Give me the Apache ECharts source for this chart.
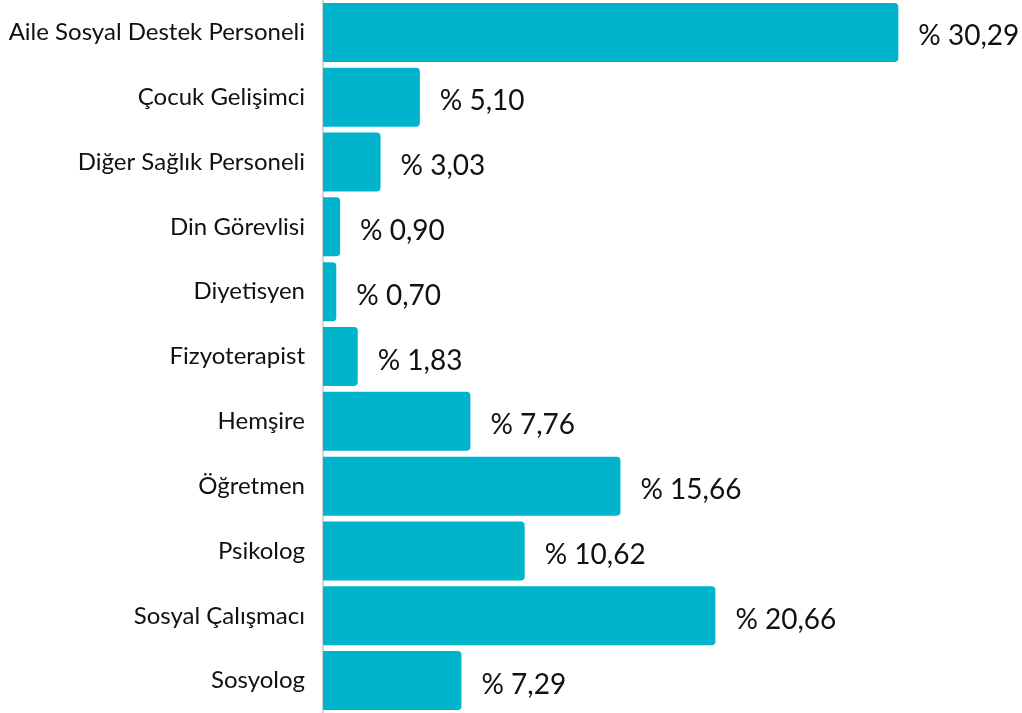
<!DOCTYPE html>
<html>
<head>
<meta charset="utf-8">
<script src="https://cdn.jsdelivr.net/npm/echarts@6/dist/echarts.min.js"></script>
<style>
  html, body { margin: 0; padding: 0; background: #fff; }
  #chart { width: 1022px; height: 713px; }
</style>
</head>
<body>
<div id="chart"></div>
<script>
// categories top to bottom
const categories = [
  'Aile Sosyal Destek Personeli',
  'Çocuk Gelişimci',
  'Diğer Sağlık Personeli',
  'Din Görevlisi',
  'Diyetisyen',
  'Fizyoterapist',
  'Hemşire',
  'Öğretmen',
  'Psikolog',
  'Sosyal Çalışmacı',
  'Sosyolog'
];
const values = [30.29, 5.10, 3.03, 0.90, 0.70, 1.83, 7.76, 15.66, 10.62, 20.66, 7.29];

const chart = echarts.init(document.getElementById('chart'));

chart.setOption({
  animation: false,
  grid: { left: 323, right: 0, top: 0, bottom: 0 },
  xAxis: {
    type: 'value',
    min: 0,
    max: 36.8,
    interval: 10,
    axisLine: { show: false },
    axisTick: { show: false },
    axisLabel: { show: false },
    splitLine: { show: false }
  },
  yAxis: {
    type: 'category',
    inverse: true,
    data: categories,
    axisLine: { show: true, lineStyle: { color: '#c8c8c8', width: 1.5 } },
    axisTick: { show: false },
    axisLabel: {
      margin: 18,
      color: '#111',
      fontSize: 24,
      fontFamily: 'Lato'
    }
  },
  series: [{
    type: 'bar',
    data: values,
    barWidth: '91%',
    itemStyle: { color: '#00b4cc', borderRadius: [0, 4, 4, 0] },
    label: {
      show: true,
      position: 'right',
      distance: 20,
      offset: [0, 4],
      color: '#111',
      fontSize: 28,
      fontFamily: 'Lato',
      formatter: p => '% ' + p.value.toFixed(2).replace('.', ',')
    }
  }]
});
</script>
</body>
</html>
